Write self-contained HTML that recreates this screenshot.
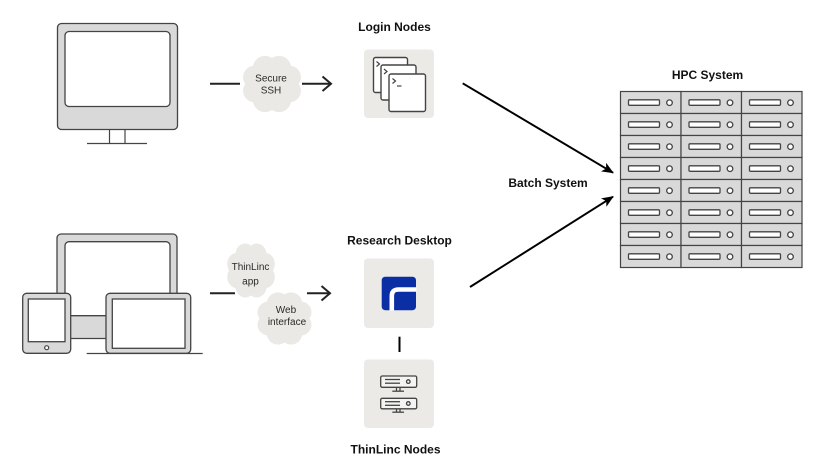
<!DOCTYPE html>
<html><head><meta charset="utf-8"><style>
html,body{margin:0;padding:0;background:#fff;}
svg{display:block;}
.lbl{font-family:"Liberation Sans",Arial,sans-serif;font-weight:bold;font-size:12px;fill:#111;text-anchor:middle;}
.ct{font-family:"Liberation Sans",Arial,sans-serif;font-size:10px;fill:#2a2a2a;text-anchor:middle;}
</style></head><body>
<svg width="836" height="475" viewBox="0 0 836 475" xmlns="http://www.w3.org/2000/svg">
<defs>
  <g id="cloud" fill="#ebe9e5">
    <circle cx="0" cy="0" r="20.5"/>
    <circle cx="17" cy="7" r="12"/><circle cx="7" cy="17" r="12"/>
    <circle cx="-7" cy="17" r="12"/><circle cx="-17" cy="7" r="12"/>
    <circle cx="-17" cy="-7" r="12"/><circle cx="-7" cy="-17" r="12"/>
    <circle cx="7" cy="-17" r="12"/><circle cx="17" cy="-7" r="12"/>
  </g>
  <g id="cell">
    <rect x="0" y="0" width="60.5" height="22" fill="#d9d9d9" stroke="#444" stroke-width="1.2"/>
    <rect x="8" y="8.3" width="31" height="5.5" rx="1" fill="#fff" stroke="#444" stroke-width="1.3"/>
    <circle cx="49" cy="11.2" r="2.8" fill="#fff" stroke="#444" stroke-width="1.3"/>
  </g>
  <marker id="ah" markerWidth="12" markerHeight="10" refX="11" refY="5" orient="auto" markerUnits="userSpaceOnUse">
    <path d="M0,0 L12,5 L0,10 L3,5 Z" fill="#000"/>
  </marker>
</defs>

<!-- Monitor 1 -->
<rect x="57.5" y="23.5" width="120" height="106" rx="4" fill="#d9d9d9" stroke="#444" stroke-width="1.3"/>
<rect x="65" y="31.5" width="105" height="75" rx="4" fill="#fff" stroke="#444" stroke-width="1.3"/>
<line x1="109.5" y1="129.5" x2="109.5" y2="143" stroke="#444" stroke-width="1.2"/>
<line x1="125" y1="129.5" x2="125" y2="143" stroke="#444" stroke-width="1.2"/>
<line x1="87" y1="143.5" x2="147" y2="143.5" stroke="#444" stroke-width="1.2"/>

<!-- SSH connector -->
<line x1="210" y1="83.7" x2="240" y2="83.7" stroke="#222" stroke-width="2"/>
<use href="#cloud" transform="translate(272,84) scale(1,0.97)"/>
<text class="ct" x="271" y="81.5">Secure</text>
<text class="ct" x="271" y="93.5">SSH</text>
<line x1="302" y1="83.7" x2="330.5" y2="83.7" stroke="#222" stroke-width="2"/>
<polyline points="322.5,76.5 331,83.7 322.5,91" fill="none" stroke="#222" stroke-width="2"/>

<!-- Login Nodes -->
<text class="lbl" x="394.5" y="31">Login Nodes</text>
<rect x="364" y="49.5" width="70" height="68.5" rx="4" fill="#ebeae6"/>
<g fill="#fff" stroke="#444" stroke-width="1.4">
  <rect x="373.5" y="57.5" width="34" height="35" rx="2"/>
  <rect x="381" y="65" width="35" height="35" rx="2"/>
  <rect x="389" y="74" width="36.5" height="37.5" rx="2"/>
</g>
<g fill="none" stroke="#444" stroke-width="1.2">
  <polyline points="376.5,61.5 379.5,64 376.5,66.5"/>
  <polyline points="384,69 387,71.5 384,74"/>
  <polyline points="392.5,78.5 395.5,81 392.5,83.5"/>
  <line x1="397" y1="86" x2="401.5" y2="86"/>
</g>

<!-- Arrows to HPC -->
<line x1="462.7" y1="83.3" x2="613" y2="172.7" stroke="#000" stroke-width="2" marker-end="url(#ah)"/>
<line x1="470" y1="287" x2="613" y2="196.7" stroke="#000" stroke-width="2" marker-end="url(#ah)"/>
<text class="lbl" x="548" y="187">Batch System</text>

<!-- HPC System -->
<text class="lbl" x="707.5" y="79">HPC System</text>
<g>
  <use href="#cell" x="620.5" y="91.5"/><use href="#cell" x="681" y="91.5"/><use href="#cell" x="741.5" y="91.5"/>
  <use href="#cell" x="620.5" y="113.5"/><use href="#cell" x="681" y="113.5"/><use href="#cell" x="741.5" y="113.5"/>
  <use href="#cell" x="620.5" y="135.5"/><use href="#cell" x="681" y="135.5"/><use href="#cell" x="741.5" y="135.5"/>
  <use href="#cell" x="620.5" y="157.5"/><use href="#cell" x="681" y="157.5"/><use href="#cell" x="741.5" y="157.5"/>
  <use href="#cell" x="620.5" y="179.5"/><use href="#cell" x="681" y="179.5"/><use href="#cell" x="741.5" y="179.5"/>
  <use href="#cell" x="620.5" y="201.5"/><use href="#cell" x="681" y="201.5"/><use href="#cell" x="741.5" y="201.5"/>
  <use href="#cell" x="620.5" y="223.5"/><use href="#cell" x="681" y="223.5"/><use href="#cell" x="741.5" y="223.5"/>
  <use href="#cell" x="620.5" y="245.5"/><use href="#cell" x="681" y="245.5"/><use href="#cell" x="741.5" y="245.5"/>
</g>

<!-- Device group -->
<rect x="57" y="234" width="120" height="104.5" rx="4" fill="#d9d9d9" stroke="#444" stroke-width="1.3"/>
<rect x="65" y="241.7" width="105" height="74" rx="4" fill="#fff" stroke="#444" stroke-width="1.3"/>
<line x1="86.7" y1="353.5" x2="202.7" y2="353.5" stroke="#444" stroke-width="1.2"/>
<rect x="22.7" y="293.3" width="48" height="60" rx="4" fill="#d9d9d9" stroke="#444" stroke-width="1.3"/>
<rect x="28.3" y="299" width="36.7" height="42.7" fill="#fff" stroke="#444" stroke-width="1.3"/>
<circle cx="46.7" cy="347.7" r="2" fill="#fff" stroke="#444" stroke-width="1.2"/>
<rect x="106" y="293.3" width="84.7" height="60" rx="4" fill="#d9d9d9" stroke="#444" stroke-width="1.3"/>
<rect x="112.3" y="299" width="72.7" height="49.3" fill="#fff" stroke="#444" stroke-width="1.3"/>

<!-- ThinLinc connector -->
<line x1="210" y1="293.3" x2="235" y2="293.3" stroke="#222" stroke-width="2"/>
<use href="#cloud" transform="translate(251,270.5) scale(0.82,0.93)"/>
<text class="ct" x="250.5" y="270">ThinLinc</text>
<text class="ct" x="250.5" y="284.5">app</text>
<use href="#cloud" transform="translate(284.5,318.5) scale(0.93,0.9)"/>
<text class="ct" x="286" y="313">Web</text>
<text class="ct" x="287" y="325">interface</text>
<line x1="307" y1="293.3" x2="329.5" y2="293.3" stroke="#222" stroke-width="2"/>
<polyline points="321.5,286 330,293.3 321.5,300.5" fill="none" stroke="#222" stroke-width="2"/>

<!-- Research Desktop -->
<text class="lbl" x="399.5" y="244.5">Research Desktop</text>
<rect x="364" y="258.5" width="70" height="69.5" rx="4" fill="#ebeae6"/>
<rect x="381.7" y="276.7" width="34.3" height="33.5" rx="3.5" fill="#0b2ea4"/>
<path d="M391.8 310.5 L391.8 296 Q391.8 289.5 398.5 289.5 L416.5 289.5" fill="none" stroke="#fff" stroke-width="4.6"/>
<line x1="399.5" y1="336.7" x2="399.5" y2="352" stroke="#000" stroke-width="2"/>

<!-- ThinLinc Nodes -->
<rect x="364" y="359.5" width="70" height="68.5" rx="4" fill="#ebeae6"/>
<g fill="none" stroke="#444" stroke-width="1.3">
  <rect x="380.7" y="376" width="36" height="11.3" rx="1.5" fill="#f4f4f2"/>
  <line x1="385" y1="379.5" x2="400" y2="379.5"/>
  <line x1="385" y1="383.2" x2="400" y2="383.2"/>
  <circle cx="408.3" cy="381.6" r="1.8"/>
  <line x1="396.5" y1="387.3" x2="396.5" y2="391"/>
  <line x1="400" y1="387.3" x2="400" y2="391"/>
  <line x1="392.3" y1="391.2" x2="404" y2="391.2"/>
  <rect x="380.7" y="398.3" width="36" height="10.5" rx="1.5" fill="#f4f4f2"/>
  <line x1="385" y1="401.7" x2="400" y2="401.7"/>
  <line x1="385" y1="405.3" x2="400" y2="405.3"/>
  <circle cx="408.3" cy="403.5" r="1.8"/>
  <line x1="396.5" y1="408.8" x2="396.5" y2="412"/>
  <line x1="400" y1="408.8" x2="400" y2="412"/>
  <line x1="392.3" y1="412.2" x2="404" y2="412.2"/>
</g>
<text class="lbl" x="395.5" y="453.5">ThinLinc Nodes</text>
</svg>
</body></html>
